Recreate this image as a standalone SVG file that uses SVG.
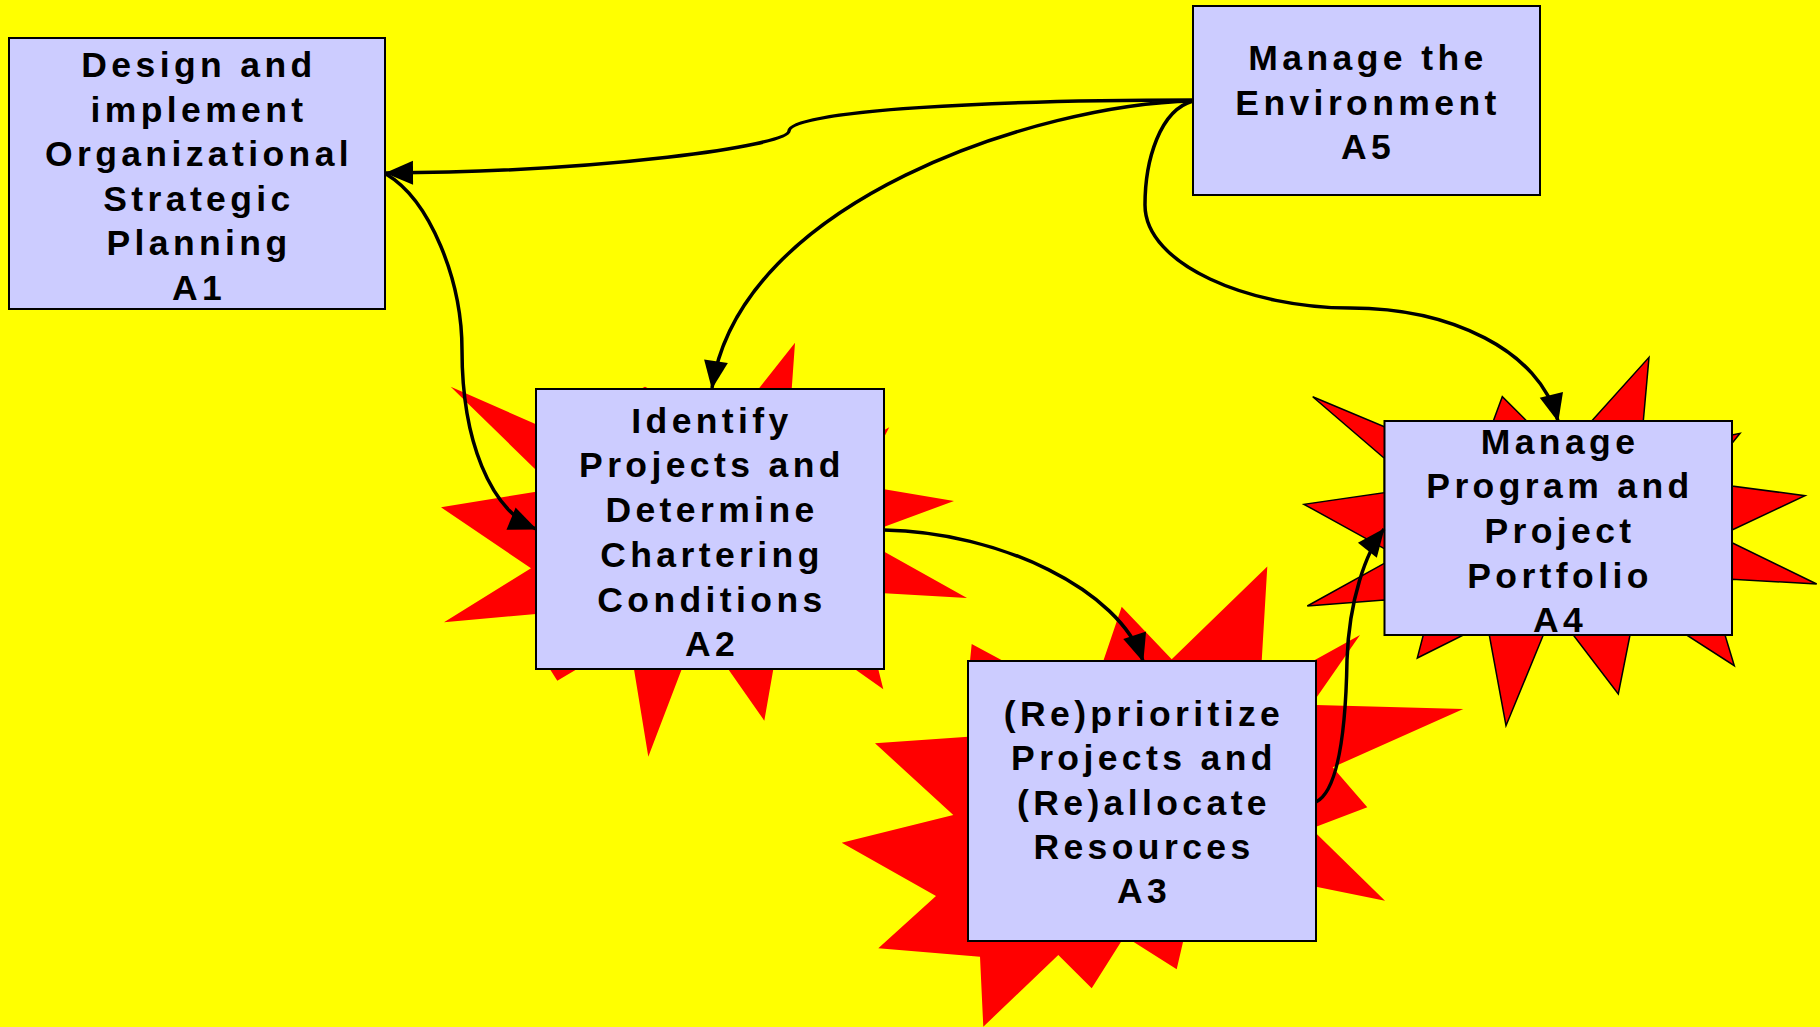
<svg xmlns="http://www.w3.org/2000/svg" width="1820" height="1027" viewBox="0 0 1820 1027">
<style>
.bg{fill:#FFFF00}
.box{fill:#CCCCFF;stroke:#000;stroke-width:2}
.star{fill:#FF0000}
.star2{fill:#FF0000;stroke:#000;stroke-width:1.5;stroke-linejoin:miter}
.lbl{font-family:"Liberation Sans",Arial,sans-serif;font-weight:bold;font-size:35.5px;letter-spacing:4.4px;fill:#000;text-anchor:middle}
.conn{fill:none;stroke:#000;stroke-width:3.5;marker-end:url(#ah)}
</style>
<defs>
<marker id="ah" markerUnits="userSpaceOnUse" markerWidth="28" markerHeight="24" refX="27" refY="12" orient="auto" overflow="visible">
<path d="M0,0 L28,12 L0,24 z" fill="#000"/>
</marker>
</defs>
<rect class="bg" x="0" y="0" width="1820" height="1027"/>

<g id="A2">
<polygon class="star" points="531,568.3 441,507.3 536,491.7 536,470 450.7,386.7 536,424.3 640,389.3 645,386.7 650,389.3 758.3,389.3 795,342.7 791.7,389.3 884.3,430 889.3,427.3 884.3,436.7 884.3,489.3 954,501 884.3,526.7 884.3,551.7 967,598 884.3,593.3 878.3,669.3 883.3,689.3 855,669.3 773.3,669.3 764.3,720.7 728.3,669.3 681.7,669.3 648.3,756.7 634,669.3 576.7,669.3 557.3,680.7 550,669.3 536,614 444,622.3"/>
<rect class="box" x="536" y="389" width="348" height="280"/>
<text class="lbl"><tspan x="712" y="433">Identify</tspan><tspan x="712" y="477">Projects and</tspan><tspan x="712" y="522">Determine</tspan><tspan x="712" y="567">Chartering</tspan><tspan x="712" y="612">Conditions</tspan><tspan x="712" y="656">A2</tspan></text>
</g>

<g id="A3">
<polygon class="star" points="970,661 971.7,644 1003.3,661 1103.3,661 1121.7,606.7 1171.7,659.3 1267.3,566.5 1261.7,661 1313,661 1360,635 1316,698.3 1316,705 1463.3,709 1332.7,767.3 1367.3,807.3 1316,826.7 1316,833.3 1385,900.7 1316,886.7 1183.3,940.7 1176.7,969.3 1131.7,940.7 1121.7,940.7 1091.7,988.3 1058.3,955 983.3,1026.7 980,956.7 878.3,948.3 936,896 841.7,842.7 953.3,815 875,743.3 968.3,736.7"/>
<rect class="box" x="968" y="661" width="348" height="280"/>
<text class="lbl"><tspan x="1144" y="726">(Re)prioritize</tspan><tspan x="1144" y="770">Projects and</tspan><tspan x="1144" y="815">(Re)allocate</tspan><tspan x="1144" y="859">Resources</tspan><tspan x="1144" y="903">A3</tspan></text>
</g>

<g id="A4">
<polygon class="star2" points="1384.3,458.3 1312.7,396.7 1384.3,426.7 1493.3,421 1502.3,396.7 1526.7,421 1591.7,421 1649,357.3 1643.3,421 1732,435 1740,433.3 1732,443.3 1732,486 1805,495.7 1732,530 1732,542.7 1816.7,584 1732,579.3 1725,635 1734.3,665.7 1686.7,635 1630,635 1618.3,694 1573.3,635 1543.3,635 1506,725.7 1489.3,635 1463.3,635 1417.3,658 1423.3,635 1384.3,600 1307.3,606 1384.3,563.3 1384.3,548.6 1304,504.3 1384.3,492.7"/>
<rect class="box" x="1384.5" y="421" width="347.5" height="214"/>
<text class="lbl"><tspan x="1560" y="454">Manage</tspan><tspan x="1560" y="498">Program and</tspan><tspan x="1560" y="543">Project</tspan><tspan x="1560" y="588">Portfolio</tspan><tspan x="1560" y="632">A4</tspan></text>
</g>

<g id="A1">
<rect class="box" x="9" y="38" width="376" height="271"/>
<text class="lbl"><tspan x="199" y="77">Design and</tspan><tspan x="199" y="122">implement</tspan><tspan x="199" y="166">Organizational</tspan><tspan x="199" y="211">Strategic</tspan><tspan x="199" y="255">Planning</tspan><tspan x="199" y="300">A1</tspan></text>
</g>

<g id="A5">
<rect class="box" x="1193" y="6" width="347" height="189"/>
<text class="lbl"><tspan x="1368" y="70">Manage the</tspan><tspan x="1368" y="115">Environment</tspan><tspan x="1368" y="159">A5</tspan></text>
</g>

<g id="connectors">
<path class="conn" d="M1193,100 C1000,100 790,110 789,131 C788,146 600,172 386,173"/>
<path class="conn" d="M386,174 C430,200 462,280 462,350 C462,440 490,510 536,529"/>
<path class="conn" d="M1193,101 C1040,104 740,200 712,388"/>
<path class="conn" d="M1193,101 C1160,110 1145,160 1145,205 C1145,265 1250,308 1350,308 C1450,308 1540,350 1558,421"/>
<path class="conn" d="M884,530 C1000,532 1120,590 1143,661"/>
<path class="conn" d="M1316,802 C1340,790 1346,720 1347,660 C1349,600 1366,552 1384,529"/>
</g>
</svg>
